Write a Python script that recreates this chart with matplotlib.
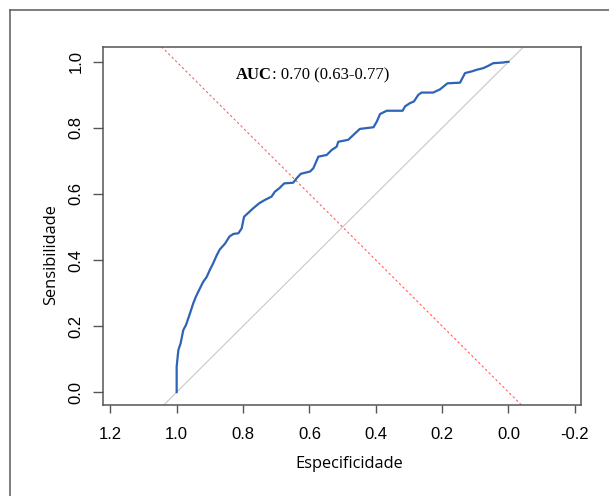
import matplotlib
matplotlib.use("Agg")
import matplotlib.pyplot as plt
from matplotlib.lines import Line2D
from matplotlib import transforms

# ROC curve: specificity (x, reversed) and sensitivity (y)
especificidade = [1.000, 1.000, 0.995, 0.988, 0.980, 0.972, 0.960, 0.950, 0.942, 0.930,
                  0.920, 0.910, 0.900, 0.890, 0.879, 0.870, 0.854, 0.841, 0.829, 0.814,
                  0.804, 0.797, 0.784, 0.769, 0.751, 0.734, 0.714, 0.704, 0.691, 0.676,
                  0.649, 0.638, 0.626, 0.598, 0.588, 0.573, 0.548, 0.533, 0.518, 0.513,
                  0.483, 0.448, 0.407, 0.397, 0.387, 0.367, 0.319, 0.312, 0.297, 0.285,
                  0.272, 0.262, 0.227, 0.206, 0.184, 0.146, 0.131, 0.111, 0.096, 0.076,
                  0.061, 0.046, 0.016, 0.005, 0.000]
sensibilidade = [0.000, 0.077, 0.127, 0.148, 0.188, 0.203, 0.238, 0.269, 0.289, 0.314,
                 0.334, 0.348, 0.370, 0.390, 0.415, 0.432, 0.450, 0.471, 0.479, 0.481,
                 0.496, 0.531, 0.543, 0.557, 0.572, 0.582, 0.592, 0.607, 0.617, 0.632,
                 0.634, 0.648, 0.661, 0.668, 0.678, 0.713, 0.718, 0.733, 0.743, 0.758,
                 0.764, 0.797, 0.802, 0.819, 0.842, 0.852, 0.852, 0.865, 0.875, 0.880,
                 0.900, 0.907, 0.907, 0.917, 0.935, 0.937, 0.966, 0.971, 0.976, 0.981,
                 0.988, 0.996, 0.998, 1.000, 1.000]
x_ticks = [1.2, 1.0, 0.8, 0.6, 0.4, 0.2, 0.0, -0.2]
y_ticks = [0.0, 0.2, 0.4, 0.6, 0.8, 1.0]
auc_label = "AUC"
auc_text = ": 0.70 (0.63-0.77)"

W, H = 609, 496
fig = plt.figure(figsize=(W / 100, H / 100), dpi=100)

# outer frame (cut off on the right and bottom)
frame_col = "#5a5a5a"
fig.add_artist(Line2D([10 / W, 10 / W], [0, 1 - 10 / H], transform=fig.transFigure,
                      color=frame_col, lw=1.1))
fig.add_artist(Line2D([10 / W, 1], [1 - 10 / H, 1 - 10 / H], transform=fig.transFigure,
                      color=frame_col, lw=1.1))

ax = fig.add_axes([103 / W, (H - 405) / H, (581 - 103) / W, (405 - 47) / H])
ax.set_xlim(1.222, -0.2185)
ax.set_ylim(-0.039, 1.045)

# chance line and the sens = spec line
ax.axline((1, 0), (0, 1), color="#c8c8c8", lw=0.8, zorder=1)
ax.axline((0, 0), (1, 1), color="#ff5050", lw=0.7, ls=(0, (2.5, 2.5)), zorder=1)

ax.plot(especificidade, sensibilidade, color="#2e63b6", lw=1.6, zorder=3)

t1 = ax.text(0.821, 0.948, auc_label, family="Liberation Serif", weight="bold",
             fontsize=12, ha="left", va="baseline")
fig.canvas.draw()
ext = t1.get_window_extent()
off = transforms.offset_copy(ax.transData, fig=fig, x=ext.width, y=0, units="dots")
ax.text(0.821, 0.948, auc_text, family="Liberation Serif", fontsize=12,
        ha="left", va="baseline", transform=off)

ax.set_xticks(x_ticks)
ax.set_xticklabels([f"{v:.1f}" for v in x_ticks])
ax.set_yticks(y_ticks)
ax.set_yticklabels([f"{v:.1f}" for v in y_ticks], rotation=90, va="center")

for lab in ax.get_xticklabels() + ax.get_yticklabels():
    lab.set_family("Liberation Sans")
    lab.set_fontsize(12)
ax.tick_params(axis="x", length=6, width=1.0, color="#555555", pad=10)
ax.tick_params(axis="y", length=7, width=1.0, color="#555555", pad=7)

for s in ax.spines.values():
    s.set_color("#555555")
    s.set_linewidth(1.1)

ax.set_xlabel("Especificidade", family="Open Sans", fontsize=11.8, labelpad=10)
ax.set_ylabel("Sensibilidade", family="Open Sans", fontsize=11.8, labelpad=7)
# the labels in the picture sit a little off the centre of the box
ax.xaxis.label.set_x(0.515)
ax.yaxis.label.set_y(0.42)

fig.savefig("out.png", dpi=100)
